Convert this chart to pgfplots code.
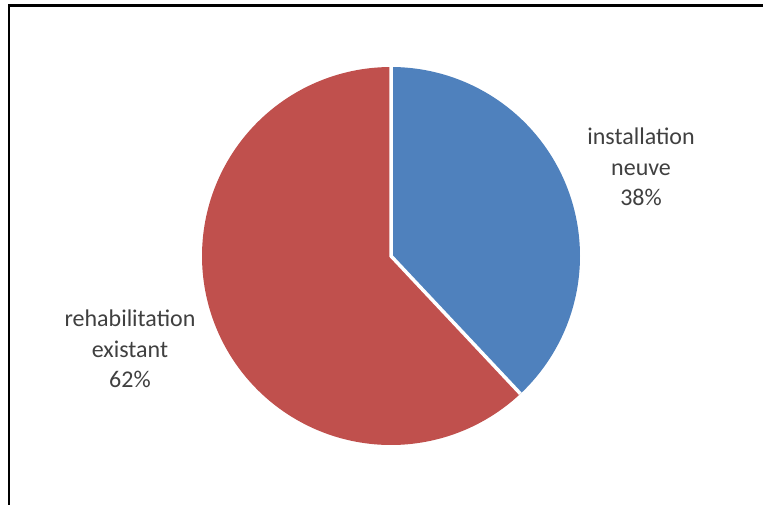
\documentclass[border=0pt]{standalone}
\usepackage{pgfplots}
\pgfplotsset{compat=1.18}
\usepackage{pgfplotstable}
\usepackage{fontspec}
\setmainfont{Carlito}
\definecolor{pieblue}{HTML}{4F81BD}
\definecolor{piered}{HTML}{C0504D}
\definecolor{labelgray}{HTML}{404040}
\pgfplotstableread{
label value
installation 38
rehabilitation 62
}\piedata
\begin{document}%
\begin{tikzpicture}[x=1pt,y=1pt]
\pgfplotstablegetelem{0}{value}\of\piedata \let\va\pgfplotsretval
\pgfplotstablegetelem{1}{value}\of\piedata \let\vb\pgfplotsretval
\pgfmathsetmacro\fa{\va/(\va+\vb)}
\pgfmathsetmacro\fb{\vb/(\va+\vb)}
\pgfmathsetmacro\angA{90-360*\fa}
\pgfmathsetmacro\angB{\angA-360*\fb}
\useasboundingbox (0,0) rectangle (763,504);
\fill[white] (0,0) rectangle (763,504);
\draw[line width=2.2pt,line cap=rect] (9,0) -- (9,498.5) -- (763,498.5);
\begin{axis}[
  at={(391pt,248pt)}, anchor=center,
  scale only axis, width=378pt, height=378pt,
  xmin=-1, xmax=1, ymin=-1, ymax=1,
  hide axis, clip=false,
]
\addplot[fill=pieblue, draw=none, domain=\angA:90, samples=150, variable=\t]
  ({cos(\t)},{sin(\t)}) -- (axis cs:0,0) -- cycle;
\addplot[fill=piered, draw=none, domain=\angB:\angA, samples=200, variable=\t]
  ({cos(\t)},{sin(\t)}) -- (axis cs:0,0) -- cycle;
\addplot[draw=white, line width=3.5pt, line join=miter, line cap=butt]
  coordinates {(0,1) (0,0) ({cos(\angA)},{sin(\angA)})};
\node[align=center, text=labelgray, font=\fontsize{24}{30.5}\selectfont] at (axis cs:1.323,0.471) {installation\\neuve\\38\%};
\node[align=center, text=labelgray, font=\fontsize{24}{30.5}\selectfont] at (axis cs:-1.381,-0.492) {rehabilitation\\existant\\62\%};
\end{axis}
\end{tikzpicture}%
\end{document}
